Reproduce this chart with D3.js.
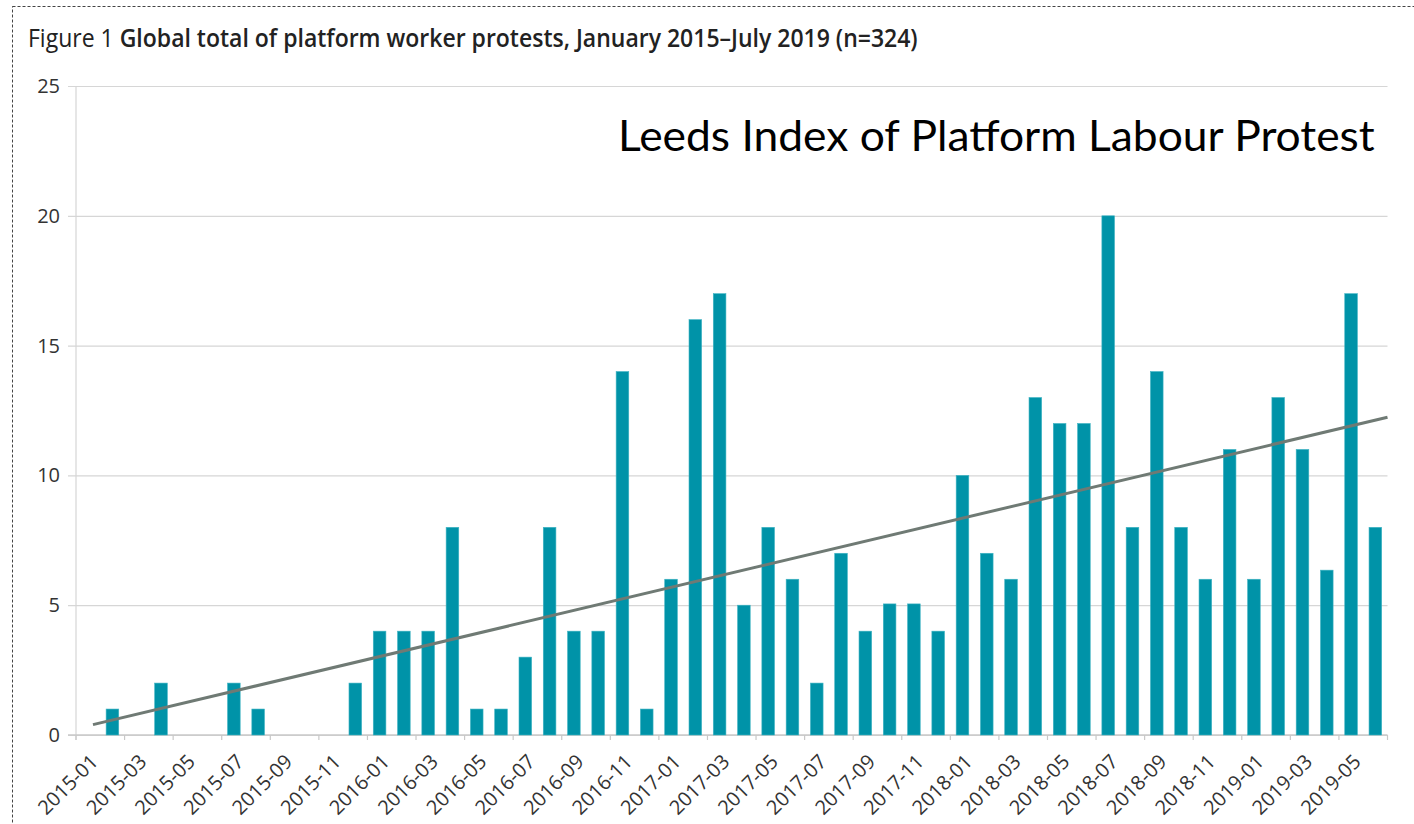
<!DOCTYPE html>
<html>
<head>
<meta charset="utf-8">
<script src="https://cdn.jsdelivr.net/npm/d3@7"></script>
<style>
body { margin: 0; background: #fff; }
</style>
</head>
<body>
<div id="vis"></div>
<script>
// Chart size
const width = 1414;
const height = 824;

// Monthly categories, Jan 2015 - Jun 2019
const months = [
    '2015-01','2015-02','2015-03','2015-04','2015-05','2015-06','2015-07','2015-08','2015-09','2015-10','2015-11','2015-12',
    '2016-01','2016-02','2016-03','2016-04','2016-05','2016-06','2016-07','2016-08','2016-09','2016-10','2016-11','2016-12',
    '2017-01','2017-02','2017-03','2017-04','2017-05','2017-06','2017-07','2017-08','2017-09','2017-10','2017-11','2017-12',
    '2018-01','2018-02','2018-03','2018-04','2018-05','2018-06','2018-07','2018-08','2018-09','2018-10','2018-11','2018-12',
    '2019-01','2019-02','2019-03','2019-04','2019-05','2019-06'
];

// Protests per month
const protests = [
    0, 1, 0, 2, 0, 0, 2, 1, 0, 0, 0, 2,
    4, 4, 4, 8, 1, 1, 3, 8, 4, 4, 14, 1,
    6, 16, 17, 5, 8, 6, 2, 7, 4, 5.05, 5.05, 4,
    10, 7, 6, 13, 12, 12, 20, 8, 14, 8, 6, 11,
    6, 13, 11, 6.35, 17, 8
];

// x tick labels (every second month)
const tickLabels = months.filter((d, i) => i % 2 == 0);
const yTicks = [0, 5, 10, 15, 20, 25];

// Linear trend line end points (month position, value)
const trendMonths = [0.7, 54];
const trendValues = [0.4, 12.24];

const font = '"Open Sans", "Noto Sans", sans-serif';

const margin = {
    top: 86,
    left: 76,
    right: 26.5,
    bottom: 89
};

let svg = d3.select('#vis')
    .append('svg')
    .attr('width', width)
    .attr('height', height)
    .style('font-family', font);

// dashed frame round the figure
svg.append('rect')
    .attr('x', 12.5)
    .attr('y', 6.5)
    .attr('width', width)
    .attr('height', height)
    .attr('fill', 'none')
    .attr('stroke', '#444')
    .attr('stroke-width', 1)
    .attr('stroke-dasharray', '3,2');

// scales
let xScale = d3.scaleBand()
    .domain(months)
    .range([margin.left, width - margin.right])
    .padding(0);

let xTrend = d3.scaleLinear()
    .domain([0, months.length])
    .range(xScale.range());

let yScale = d3.scaleLinear()
    .domain([0, 25])
    .range([height - margin.bottom, margin.top]);

const x0 = xScale.range()[0];
const x1 = xScale.range()[1];
const step = xScale.step();

// gridlines + y labels (axis anchored on right so lines run across)
let yAxis = d3.axisLeft(yScale)
    .tickValues(yTicks)
    .tickSize(x1 - x0 + 8)
    .tickPadding(8);

svg.append('g')
    .attr('class', 'y axis')
    .attr('transform', `translate(${x1},0)`)
    .call(yAxis)
    .attr('font-family', font)
    .attr('font-size', 20)
    .call(g => g.select('.domain').remove())
    .call(g => g.selectAll('line').attr('stroke', '#d6d6d6').attr('stroke-width', 1.2))
    .call(g => g.selectAll('text').attr('fill', '#333'));

// y axis line
svg.append('line')
    .attr('x1', x0).attr('x2', x0)
    .attr('y1', yScale(25)).attr('y2', yScale(0) + 5)
    .attr('stroke', '#d6d6d6')
    .attr('stroke-width', 1.2);

// bottom axis line
svg.append('line')
    .attr('x1', x0 - 8).attr('x2', x1)
    .attr('y1', yScale(0)).attr('y2', yScale(0))
    .attr('stroke', '#c8c8c8')
    .attr('stroke-width', 1.5);

// tick marks between every two months
let tickPos = tickLabels.map(d => xScale(d)).concat([x1]);
svg.append('g')
    .selectAll('line')
    .data(tickPos)
    .join('line')
    .attr('x1', d => d).attr('x2', d => d)
    .attr('y1', yScale(0)).attr('y2', yScale(0) + 5)
    .attr('stroke', '#c8c8c8')
    .attr('stroke-width', 1.2);

// x labels, centred between tick marks
let xAxis = d3.axisBottom(xScale)
    .tickValues(tickLabels)
    .tickSize(0);

svg.append('g')
    .attr('class', 'x axis')
    .attr('transform', `translate(0,${yScale(0)})`)
    .call(xAxis)
    .attr('font-family', font)
    .attr('font-size', 20)
    .call(g => g.select('.domain').remove())
    .call(g => g.selectAll('text')
        .attr('y', 0)
        .attr('dy', 0)
        .attr('fill', '#333')
        .attr('text-anchor', 'end')
        .attr('transform', `translate(${step / 2 - 1},28) rotate(-45)`));

// bars
const barW = step * 0.52;
svg.append('g')
    .selectAll('rect')
    .data(protests)
    .join('rect')
    .attr('x', (d, i) => xScale(months[i]) + (step - barW) / 2)
    .attr('y', d => yScale(d))
    .attr('width', barW)
    .attr('height', d => yScale(0) - yScale(d))
    .attr('fill', '#0093a8')
    .attr('stroke', '#3fb4c3')
    .attr('stroke-width', 0.6);

// trend line
let trend = trendMonths.map((m, i) => [m, trendValues[i]]);
svg.append('path')
    .datum(trend)
    .attr('d', d3.line().x(d => xTrend(d[0])).y(d => yScale(d[1])))
    .attr('fill', 'none')
    .attr('stroke', '#6f7a74')
    .attr('stroke-width', 3);

// title (squeezed to the width of the original)
let title = svg.append('g');
let titleText = title.append('text')
    .attr('x', 0)
    .attr('y', 0)
    .attr('fill', '#222')
    .attr('font-size', '25px');
titleText.append('tspan').text('Figure 1 ');
titleText.append('tspan').attr('font-weight', 600)
    .text('Global total of platform worker protests, January 2015\u2013July 2019 (n=324)');
let tw = titleText.node().getComputedTextLength();
title.attr('transform', `translate(28,47) scale(${890 / tw},1)`);

// overlay label
let leeds = svg.append('g');
let leedsText = leeds.append('text')
    .attr('x', 0)
    .attr('y', 0)
    .attr('fill', '#000')
    .attr('font-family', 'Lato, "Open Sans", sans-serif')
    .attr('font-size', '42px')
    .text('Leeds Index of Platform Labour Protest');
let lw = leedsText.node().getComputedTextLength();
leeds.attr('transform', `translate(618,151) scale(${757 / lw},1)`);
</script>
</body>
</html>
